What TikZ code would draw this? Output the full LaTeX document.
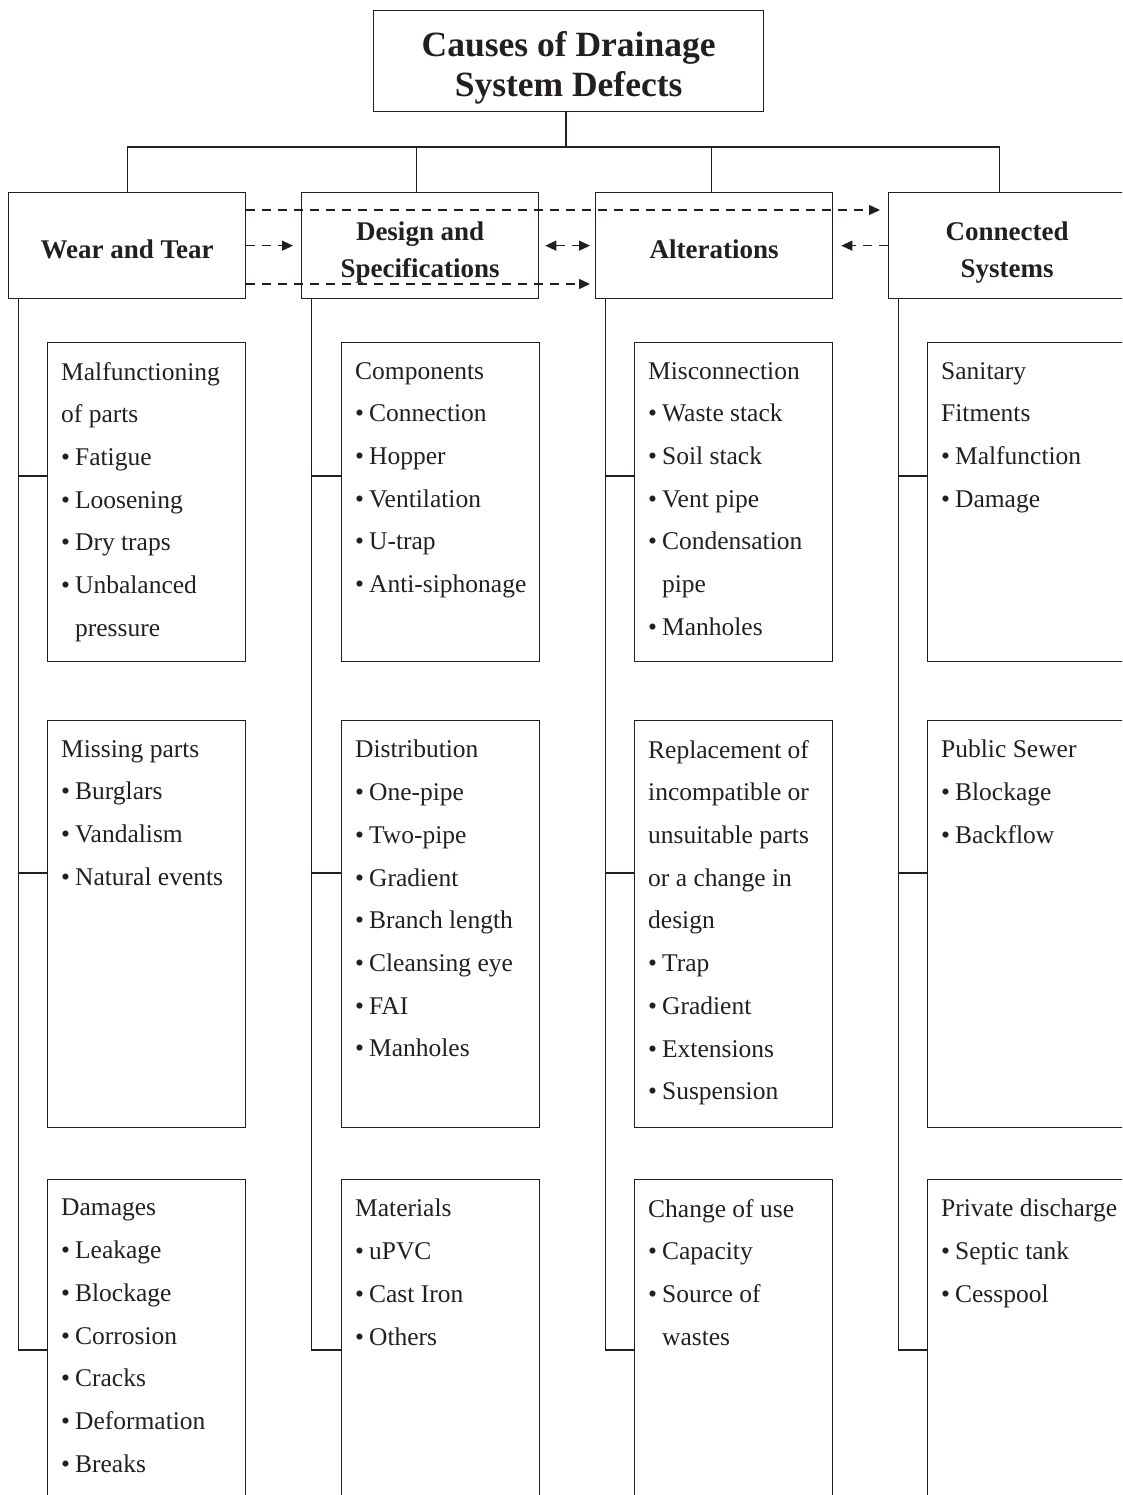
\documentclass[tikz,border=0pt]{standalone}
\usepackage{fontspec}
\setmainfont{Liberation Serif}
\usetikzlibrary{arrows.meta}
\definecolor{ink}{HTML}{231F20}
% bullet and the matching indent for a wrapped bullet line
\newcommand\bl{\textbullet\hspace{5pt}}
\newcommand\ct{\phantom{\textbullet}\hspace{5pt}}
% fixed-height strut so every first line sits at the same depth
\newcommand\firststrut{\rule{0pt}{20pt}}
\begin{document}
\begin{tikzpicture}[x=1pt,y=-1pt,
  rule/.style={draw=ink,line width=1.3pt},
  frame/.style={rule,rectangle,inner sep=0pt,anchor=north west},
  titlebox/.style={frame,minimum width=390pt,minimum height=101pt},
  titletext/.style={inner sep=0pt,align=center,text=ink,
    font=\bfseries\fontsize{35.5}{40}\selectfont},
  headbox/.style={frame,minimum width=237pt,minimum height=106pt},
  headtext/.style={inner sep=0pt,align=center,text=ink,
    font=\bfseries\fontsize{27}{37}\selectfont},
  itembox/.style={frame,minimum width=198pt},
  row1/.style={itembox,minimum height=319pt},
  row2/.style={itembox,minimum height=407pt},
  row3/.style={itembox,minimum height=360pt},
  body/.style={inner sep=0pt,anchor=north west,align=left,text=ink,
    font=\fontsize{25.5}{42.7}\selectfont,execute at begin node=\firststrut},
  link/.style={draw=ink,line width=1.2pt,dash pattern=on 9pt off 7pt,
    -{Triangle[length=11pt,width=10pt]}},
  link2/.style={link,{Triangle[length=11pt,width=10pt]}-{Triangle[length=11pt,width=10pt]}}
]
\useasboundingbox (0,0) rectangle (1122,1495);
\clip (0,0) rectangle (1122,1495);

% title and the four main causes
\node[titlebox] (title) at (373,10) {};
\node[titletext] (titlet) at ([yshift=-7pt]title.center) {Causes of Drainage\\System Defects};
\node[headbox] (hA) at (8,192)   {};
\node[headbox] (hB) at (301,192) {};
\node[headbox] (hC) at (595,192) {};
\node[headbox] (hD) at (888,192) {};
\node[headtext] (hAt) at ([yshift=-4pt]hA.center) {Wear and Tear};
\node[headtext] (hBt) at ([yshift=-7pt]hB.center) {Design and\\Specifications};
\node[headtext] (hCt) at ([yshift=-4pt]hC.center) {Alterations};
\node[headtext] (hDt) at ([yshift=-7pt]hD.center) {Connected\\Systems};

% tree from the title to the main causes
\coordinate (bus) at (566,147);
\coordinate (dA) at ([xshift=0.5pt]hA.north);
\coordinate (dB) at ([xshift=-4pt]hB.north);
\coordinate (dC) at ([xshift=-2.5pt]hC.north);
\coordinate (dD) at ([xshift=-7.5pt]hD.north);
\draw[rule] (bus) -- (bus |- title.south);
\draw[rule] (dA) -- (dA |- bus) -- (dD |- bus) -- (dD);
\draw[rule] (dB) -- (dB |- bus);
\draw[rule] (dC) -- (dC |- bus);

% links between the main causes
\coordinate (ytop) at (0,210);
\coordinate (ybot) at (0,284);
\draw[link,shorten >=8pt] (hA.east |- ytop) -- (hD.west |- ytop);
\draw[link,shorten >=8pt] (hA.east) -- (hB.west);
\draw[link,shorten >=5pt] (hA.east |- ybot) -- (hC.west |- ybot);
\draw[link2,shorten <=6pt,shorten >=5pt] (hB.east) -- (hC.west);
\draw[link,shorten >=8pt] (hD.west) -- (hC.east);

% detail boxes
\node[row1] (a1) at (47,342)  {};
\node[row2] (a2) at (47,720)  {};
\node[row3] (a3) at (47,1179) {};
\node[row1] (b1) at (341,342)  {};
\node[row2] (b2) at (341,720)  {};
\node[row3] (b3) at (341,1179) {};
\node[row1] (c1) at (634,342)  {};
\node[row2] (c2) at (634,720)  {};
\node[row3] (c3) at (634,1179) {};
\node[row1] (d1) at (927,342)  {};
\node[row2] (d2) at (927,720)  {};
\node[row3] (d3) at (927,1179) {};

% spines and branches
\coordinate (yr1) at (0,476);
\coordinate (yr2) at (0,873);
\coordinate (yr3) at (0,1350);
\foreach \h/\c in {hA/a,hB/b,hC/c,hD/d}{
  \coordinate (s) at ([xshift=10.5pt]\h.south west);
  \draw[rule] (s) -- (s |- yr3) -- (\c3.west |- yr3);
  \draw[rule] (s |- yr1) -- (\c1.west |- yr1);
  \draw[rule] (s |- yr2) -- (\c2.west |- yr2);
}

% box contents
\node[body] (ta1) at ([shift={(14pt,-20pt)}]a1.north west)
  {Malfunctioning\\of parts\\\bl Fatigue\\\bl Loosening\\\bl Dry traps\\\bl Unbalanced\\\ct pressure};
\node[body] (ta2) at ([shift={(14pt,-20pt)}]a2.north west)
  {Missing parts\\\bl Burglars\\\bl Vandalism\\\bl Natural events};
\node[body] (ta3) at ([shift={(14pt,-20pt)}]a3.north west)
  {Damages\\\bl Leakage\\\bl Blockage\\\bl Corrosion\\\bl Cracks\\\bl Deformation\\\bl Breaks};
\node[body] (tb1) at ([shift={(14pt,-20pt)}]b1.north west)
  {Components\\\bl Connection\\\bl Hopper\\\bl Ventilation\\\bl U-trap\\\bl Anti-siphonage};
\node[body] (tb2) at ([shift={(14pt,-20pt)}]b2.north west)
  {Distribution\\\bl One-pipe\\\bl Two-pipe\\\bl Gradient\\\bl Branch length\\\bl Cleansing eye\\\bl FAI\\\bl Manholes};
\node[body] (tb3) at ([shift={(14pt,-20pt)}]b3.north west)
  {Materials\\\bl uPVC\\\bl Cast Iron\\\bl Others};
\node[body] (tc1) at ([shift={(14pt,-20pt)}]c1.north west)
  {Misconnection\\\bl Waste stack\\\bl Soil stack\\\bl Vent pipe\\\bl Condensation\\\ct pipe\\\bl Manholes};
\node[body] (tc2) at ([shift={(14pt,-20pt)}]c2.north west)
  {Replacement of\\incompatible or\\unsuitable parts\\or a change in\\design\\\bl Trap\\\bl Gradient\\\bl Extensions\\\bl Suspension};
\node[body] (tc3) at ([shift={(14pt,-20pt)}]c3.north west)
  {Change of use\\\bl Capacity\\\bl Source of\\\ct wastes};
\node[body] (td1) at ([shift={(14pt,-20pt)}]d1.north west)
  {Sanitary\\Fitments\\\bl Malfunction\\\bl Damage};
\node[body] (td2) at ([shift={(14pt,-20pt)}]d2.north west)
  {Public Sewer\\\bl Blockage\\\bl Backflow};
\node[body] (td3) at ([shift={(14pt,-20pt)}]d3.north west)
  {Private discharge\\\bl Septic tank\\\bl Cesspool};
\end{tikzpicture}
\end{document}
